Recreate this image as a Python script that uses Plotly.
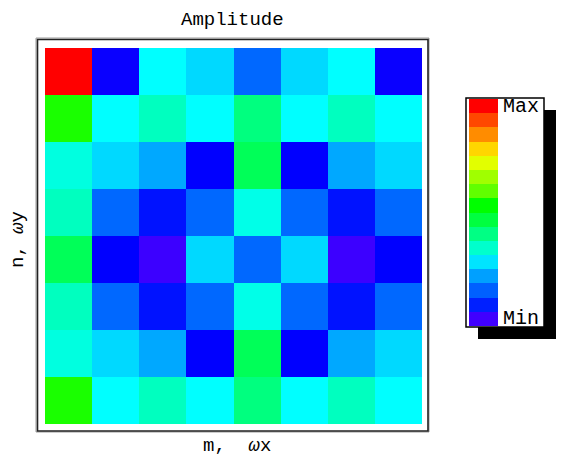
import colorsys
import plotly.graph_objects as go

W, H = 562, 457

# ---- data: normalized amplitude (0 = Min, 1 = Max), rows listed top to bottom ----
col_labels = ["1", "2", "3", "4", "5", "6", "7", "8"]
row_labels = ["1", "2", "3", "4", "5", "6", "7", "8"]
row1 = [1.000, 0.051, 0.294, 0.259, 0.155, 0.259, 0.294, 0.051]
row2 = [0.553, 0.294, 0.353, 0.294, 0.412, 0.294, 0.353, 0.294]
row3 = [0.323, 0.259, 0.214, 0.059, 0.448, 0.059, 0.214, 0.259]
row4 = [0.353, 0.155, 0.075, 0.155, 0.315, 0.155, 0.075, 0.155]
row5 = [0.448, 0.059, 0.004, 0.259, 0.155, 0.259, 0.004, 0.059]
row6 = [0.353, 0.155, 0.075, 0.155, 0.315, 0.155, 0.075, 0.155]
row7 = [0.323, 0.259, 0.214, 0.059, 0.448, 0.059, 0.214, 0.259]
row8 = [0.553, 0.294, 0.353, 0.294, 0.412, 0.294, 0.353, 0.294]
amplitude = [row1, row2, row3, row4, row5, row6, row7, row8]

# legend levels (16 discrete steps, listed from Max at top to Min at bottom)
legend_colors = ["#FF0000", "#FF4800", "#FF8C00", "#FFD600", "#E2FF00", "#A0FF00",
                 "#60FF00", "#00FF00", "#00FF40", "#00FF84", "#00FFCC", "#00E4FF",
                 "#00A0FF", "#0060FF", "#0020FF", "#4000FF"]
legend_levels = list(range(len(legend_colors)))  # 0 = Min (bottom)

title_text = "Amplitude"
xlabel = "m,\u00a0\u00a0<i>ω</i>x"
ylabel = "n, <i>ω</i>y"

# ---- colour scale: hue ramp from 255 deg (min) to 0 deg (max) ----
def hue_hex(h):
    r, g, b = colorsys.hsv_to_rgb(h / 360.0, 1, 1)
    return "#%02X%02X%02X" % (round(r * 255), round(g * 255), round(b * 255))

hue_stops = [255, 240, 180, 120, 60, 0]
cscale = [[(255 - h) / 255.0, hue_hex(h)] for h in hue_stops]

n = len(legend_colors)
leg_scale = []
for i, c in enumerate(legend_colors[::-1]):
    leg_scale.append([i / n, c])
    leg_scale.append([(i + 1) / n, c])

def px(x):
    return x / W

def py(y):
    return 1 - y / H

fig = go.Figure()
fig.add_trace(go.Heatmap(
    z=amplitude, x=col_labels, y=row_labels, colorscale=cscale,
    zmin=0, zmax=1, showscale=False, xaxis="x", yaxis="y", hoverinfo="skip"))

fig.add_trace(go.Heatmap(
    z=[[v] for v in legend_levels], x=["c"],
    y=[str(i) for i in legend_levels], colorscale=leg_scale,
    zmin=-0.5, zmax=n - 0.5, showscale=False, xaxis="x2", yaxis="y2",
    hoverinfo="skip"))

font_family = "Liberation Mono, Courier New, monospace"

fig.update_layout(
    width=W, height=H, margin=dict(l=0, r=0, t=0, b=0),
    paper_bgcolor="white", plot_bgcolor="white",
    xaxis=dict(domain=[px(45), px(422)], showticklabels=False, ticks="",
               showgrid=False, zeroline=False, showline=False, fixedrange=True),
    yaxis=dict(domain=[py(424), py(48)], autorange="reversed", showticklabels=False,
               ticks="", showgrid=False, zeroline=False, showline=False),
    xaxis2=dict(domain=[px(469), px(498)], showticklabels=False, ticks="",
                showgrid=False, zeroline=False, showline=False, anchor="y2"),
    yaxis2=dict(domain=[py(326), py(99)], showticklabels=False, ticks="",
                showgrid=False, zeroline=False, showline=False, anchor="x2"),
    font=dict(family=font_family, color="black"),
    showlegend=False,
)

shapes = [
    # main frame (with light grey outer edge)
    dict(type="rect", xref="paper", yref="paper", x0=px(36), x1=px(429),
         y0=py(432), y1=py(38), line=dict(color="#9a9a9a", width=1), layer="below"),
    dict(type="rect", xref="paper", yref="paper", x0=px(37.5), x1=px(428),
         y0=py(431), y1=py(39.5), line=dict(color="#222222", width=1.6), layer="below"),
    # legend shadow
    dict(type="rect", xref="paper", yref="paper", x0=px(478), x1=px(556),
         y0=py(339), y1=py(110), fillcolor="black", line=dict(width=0), layer="below"),
    # legend box
    dict(type="rect", xref="paper", yref="paper", x0=px(466), x1=px(544),
         y0=py(327), y1=py(98), fillcolor="white",
         line=dict(color="black", width=1.5), layer="below"),
]
fig.update_layout(shapes=shapes)

annotations = []
for text, x, y in [(title_text, 232, 20), (xlabel, 237, 446)]:
    annotations.append(dict(text=text, x=px(x), y=py(y), xref="paper", yref="paper",
                            showarrow=False, xanchor="center", yanchor="middle",
                            font=dict(size=19, family=font_family)))
annotations.append(dict(text=ylabel, x=px(18), y=py(240), xref="paper", yref="paper",
                        showarrow=False, xanchor="center", yanchor="middle", textangle=-90,
                        font=dict(size=19, family=font_family)))
annotations.append(dict(text="Max", x=px(501), y=py(106), xref="paper", yref="paper",
                        showarrow=False, xanchor="left", yanchor="middle",
                        font=dict(size=20, family=font_family)))
annotations.append(dict(text="Min", x=px(501), y=py(318), xref="paper", yref="paper",
                        showarrow=False, xanchor="left", yanchor="middle",
                        font=dict(size=20, family=font_family)))
fig.update_layout(annotations=annotations)

fig.write_html("out.html")
